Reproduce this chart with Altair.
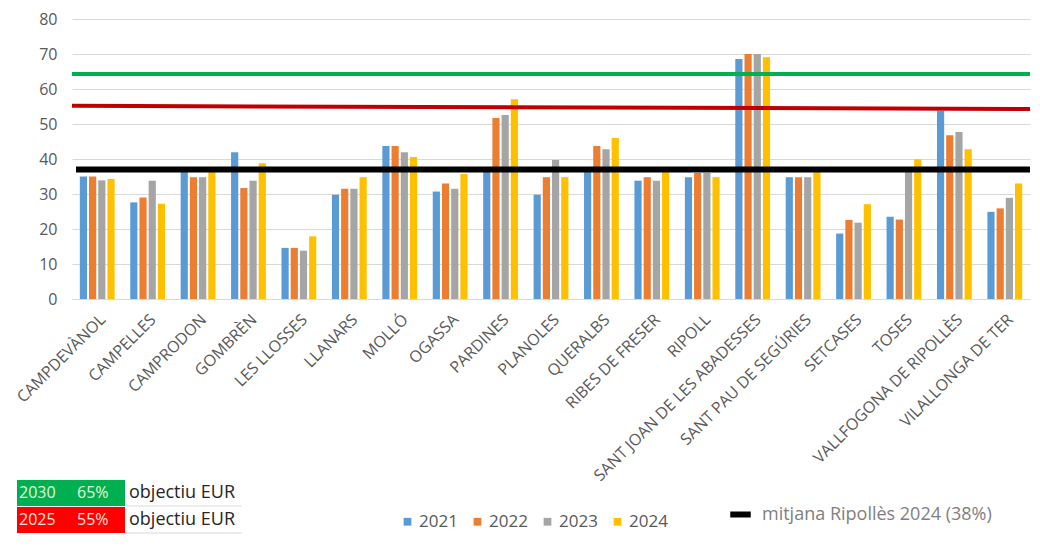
import altair as alt
import pandas as pd

municipis = ["CAMPDEVÀNOL", "CAMPELLES", "CAMPRODON", "GOMBRÈN", "LES LLOSSES",
             "LLANARS", "MOLLÓ", "OGASSA", "PARDINES", "PLANOLES", "QUERALBS",
             "RIBES DE FRESER", "RIPOLL", "SANT JOAN DE LES ABADESSES",
             "SANT PAU DE SEGÚRIES", "SETCASES", "TOSES", "VALLFOGONA DE RIPOLLÈS",
             "VILALLONGA DE TER"]
anys = ["2021", "2022", "2023", "2024"]
v2021 = [35.0, 27.6, 37.0, 41.9, 14.6, 29.8, 43.7, 30.7, 37.0, 29.8, 37.3, 33.8, 34.8, 68.6, 34.8, 18.7, 23.5, 53.8, 24.9]
v2022 = [35.0, 29.0, 34.8, 31.7, 14.6, 31.5, 43.7, 33.0, 51.7, 34.8, 43.7, 34.8, 36.0, 70.0, 34.8, 22.6, 22.7, 46.8, 25.9]
v2023 = [33.9, 33.8, 34.8, 33.8, 13.8, 31.5, 41.9, 31.5, 52.6, 39.7, 42.8, 33.8, 36.0, 70.0, 34.8, 21.8, 36.5, 47.7, 28.9]
v2024 = [34.3, 27.2, 36.8, 38.8, 17.9, 34.8, 40.6, 35.7, 57.1, 34.8, 46.0, 36.5, 34.8, 69.1, 36.5, 27.1, 39.9, 42.8, 33.0]
colors_anys = ["#5B9BD5", "#ED7D31", "#A5A5A5", "#FFC000"]
y_ticks = [0, 10, 20, 30, 40, 50, 60, 70, 80]

objectiu_2030 = [64.3, 64.3]
objectiu_2025 = [55.2, 54.3]
mitjana = [37.0]
mitjana_label = ["mitjana Ripollès 2024 (38%)"]

caixes_any = ["2030", "2025"]
caixes_pct = ["65%", "55%"]
caixes_color = ["#00B050", "#FF0000"]
caixes_text_color = ["#E2F5DA", "#FFE0DC"]
caixes_label = ["objectiu EUR", "objectiu EUR"]

W, H = 958, 280
FONT = "Open Sans"

rows = []
for i, m in enumerate(municipis):
    for a, vals in zip(anys, [v2021, v2022, v2023, v2024]):
        rows.append({"municipi": m, "any": a, "valor": vals[i]})
df = pd.DataFrame(rows)

y_axis = alt.Axis(values=y_ticks, labelFontSize=16, labelColor="#595959", labelFont=FONT,
                  ticks=False, domain=False, gridColor="#D9D9D9", labelPadding=15,
                  labelOverlap=False, title=None)
y_scale = alt.Scale(domain=[0, 80], nice=False)

bars = alt.Chart(df).mark_bar().encode(
    x=alt.X("municipi:N", sort=municipis,
            scale=alt.Scale(paddingInner=0.31, paddingOuter=0.155),
            axis=alt.Axis(title=None, labelAngle=-45, labelFontSize=16,
                          labelColor="#595959", labelFont=FONT, ticks=False,
                          domainColor="#D9D9D9", labelPadding=12, labelLimit=400)),
    xOffset=alt.XOffset("any:N", sort=anys, scale=alt.Scale(paddingInner=0.22)),
    y=alt.Y("valor:Q", scale=y_scale, axis=y_axis),
    color=alt.Color("any:N", sort=anys,
                    scale=alt.Scale(domain=anys, range=colors_anys),
                    legend=alt.Legend(title=None, orient="none", legendX=327,
                                      legendY=494, direction="horizontal",
                                      symbolType="square", symbolSize=60,
                                      labelFontSize=17, labelColor="#595959",
                                      labelFont=FONT, columnPadding=11,
                                      labelOffset=3)),
)

green = alt.Chart(pd.DataFrame({"a": [objectiu_2030[0]], "b": [objectiu_2030[1]]})).mark_rule(
    color="#00B050", strokeWidth=4).encode(
    y=alt.Y("a:Q", scale=y_scale, axis=y_axis), y2="b:Q", x=alt.value(0), x2=alt.value(W))

red = alt.Chart(pd.DataFrame({"a": [objectiu_2025[0]], "b": [objectiu_2025[1]]})).mark_rule(
    color="#C00000", strokeWidth=4).encode(
    y=alt.Y("a:Q", scale=y_scale, axis=y_axis), y2="b:Q", x=alt.value(0), x2=alt.value(W))

black = alt.Chart(pd.DataFrame({"v": mitjana, "label": mitjana_label})).mark_rule(
    strokeWidth=6).encode(
    y=alt.Y("v:Q", scale=y_scale, axis=y_axis), x=alt.value(4), x2=alt.value(W),
    stroke=alt.Stroke("label:N", scale=alt.Scale(domain=mitjana_label, range=["#000000"]),
                      legend=alt.Legend(title=None, orient="none", legendX=655,
                                        legendY=482, symbolType="stroke",
                                        symbolStrokeWidth=6, symbolSize=420,
                                        labelFontSize=18, labelColor="#7F7F7F",
                                        labelFont=FONT, labelOffset=8,
                                        labelLimit=400)))

layers = [bars, green, red, black]
row_y = [(461, 487), (488, 514)]
for i in range(2):
    d = pd.DataFrame({"any": [caixes_any[i]], "pct": [caixes_pct[i]], "lab": [caixes_label[i]]})
    y0, y1 = row_y[i]
    ym = (y0 + y1) / 2
    base = alt.Chart(d)
    layers.append(base.mark_rect(color=caixes_color[i]).encode(
        x=alt.value(-55), x2=alt.value(53), y=alt.value(y0), y2=alt.value(y1)))
    layers.append(base.mark_text(align="left", baseline="middle", fontSize=16, font=FONT,
                                 color=caixes_text_color[i]).encode(
        x=alt.value(-53), y=alt.value(ym), text="any:N"))
    layers.append(base.mark_text(align="left", baseline="middle", fontSize=16, font=FONT,
                                 color=caixes_text_color[i]).encode(
        x=alt.value(5), y=alt.value(ym), text="pct:N"))
    layers.append(base.mark_text(align="left", baseline="middle", fontSize=18, font=FONT,
                                 color="#262626").encode(
        x=alt.value(57), y=alt.value(ym), text="lab:N"))
    layers.append(base.mark_rule(color="#D9D9D9", strokeWidth=1).encode(
        x=alt.value(53), x2=alt.value(170), y=alt.value(y1), y2=alt.value(y1)))

chart = alt.layer(*layers).properties(
    width=W, height=H,
    autosize=alt.AutoSizeParams(type="none"),
    padding={"left": 64, "top": 11, "right": 2, "bottom": 240},
).configure_view(stroke=None)

chart.save("out.html", embed_options={"renderer": "svg", "actions": False})
